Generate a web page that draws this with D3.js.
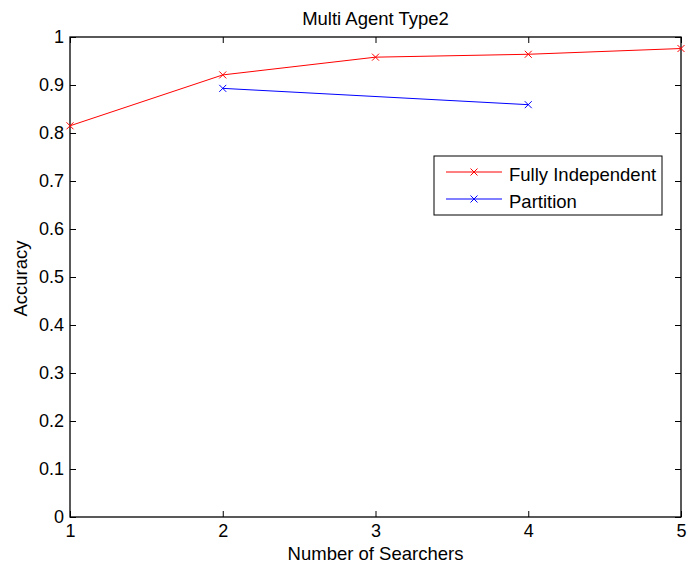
<!DOCTYPE html>
<html>
<head>
<meta charset="utf-8">
<script src="https://cdn.jsdelivr.net/npm/d3@7"></script>
<style>
  body { margin: 0; background: #fff; }
  text { font-family: "Liberation Sans", Arial, sans-serif; fill: #000; }
</style>
</head>
<body>
<svg id="chart" width="689" height="568"></svg>
<script>
const searchers = [1, 2, 3, 4, 5];
const fullyIndependent = [0.815, 0.921, 0.958, 0.964, 0.976];
const partitionX = [2, 4];
const partitionY = [0.893, 0.859];
const xTicks = [1, 2, 3, 4, 5];
const yTicks = [0, 0.1, 0.2, 0.3, 0.4, 0.5, 0.6, 0.7, 0.8, 0.9, 1];
const seriesNames = ["Fully Independent", "Partition"];
const seriesColors = ["#ff0000", "#0000ff"];

const svg = d3.select("#chart");
const plotLeft = 70, plotRight = 681, plotTop = 37, plotBottom = 517;

const x = d3.scaleLinear().domain([1, 5]).range([plotLeft, plotRight]);
const y = d3.scaleLinear().domain([0, 1]).range([plotBottom, plotTop]);

// Axes with inward ticks on all four sides (boxed frame)
const tickLen = 6;
const fmtY = d => d === 0 ? "0" : d === 1 ? "1" : d3.format(".1f")(d);

svg.append("g").attr("transform", `translate(0,${plotBottom})`)
  .call(d3.axisBottom(x).tickValues(xTicks).tickSize(-tickLen).tickPadding(7.5).tickFormat(d3.format("d")))
  .call(g => g.select(".domain").remove());
svg.append("g").attr("transform", `translate(0,${plotTop})`)
  .call(d3.axisTop(x).tickValues(xTicks).tickSize(-tickLen).tickFormat(""))
  .call(g => g.select(".domain").remove());
svg.append("g").attr("transform", `translate(${plotLeft},0)`)
  .call(d3.axisLeft(y).tickValues(yTicks).tickSize(-tickLen).tickPadding(6).tickFormat(fmtY))
  .call(g => g.select(".domain").remove());
svg.append("g").attr("transform", `translate(${plotRight},0)`)
  .call(d3.axisRight(y).tickValues(yTicks).tickSize(-tickLen).tickFormat(""))
  .call(g => g.select(".domain").remove());

svg.selectAll(".tick line").attr("stroke", "#000").attr("stroke-width", 1);
svg.selectAll(".tick text")
  .style("font-size", "18px")
  .style("font-family", "'Liberation Sans', Arial, sans-serif");

svg.append("rect")
  .attr("x", plotLeft).attr("y", plotTop)
  .attr("width", plotRight - plotLeft).attr("height", plotBottom - plotTop)
  .attr("fill", "none").attr("stroke", "#000").attr("stroke-width", 1.3);

// Series lines with x markers
const line = d3.line().x(d => x(d[0])).y(d => y(d[1]));
const series = [
  searchers.map((s, i) => [s, fullyIndependent[i]]),
  partitionX.map((s, i) => [s, partitionY[i]])
];

function cross(g, cx, cy, color) {
  const r = 3.5;
  g.append("path")
    .attr("d", `M${cx - r},${cy - r}L${cx + r},${cy + r}M${cx - r},${cy + r}L${cx + r},${cy - r}`)
    .attr("stroke", color).attr("stroke-width", 1).attr("fill", "none");
}

series.forEach((pts, i) => {
  const g = svg.append("g");
  g.append("path").datum(pts).attr("d", line)
    .attr("fill", "none").attr("stroke", seriesColors[i]).attr("stroke-width", 1);
  pts.forEach(p => cross(g, x(p[0]), y(p[1]), seriesColors[i]));
});

// Title and axis labels
svg.append("text").attr("x", (plotLeft + plotRight) / 2).attr("y", 25)
  .attr("text-anchor", "middle").style("font-size", "18.5px").text("Multi Agent Type2");
svg.append("text").attr("x", (plotLeft + plotRight) / 2).attr("y", 559.5)
  .attr("text-anchor", "middle").style("font-size", "18.5px").text("Number of Searchers");
svg.append("text").attr("transform", `translate(26.5,278.5) rotate(-90)`)
  .attr("text-anchor", "middle").style("font-size", "18.5px").text("Accuracy");

// Legend
const lg = svg.append("g");
lg.append("rect").attr("x", 434).attr("y", 156).attr("width", 228).attr("height", 59)
  .attr("fill", "#fff").attr("stroke", "#000").attr("stroke-width", 1);
seriesNames.forEach((name, i) => {
  const ly = 172 + i * 27;
  lg.append("line").attr("x1", 446).attr("x2", 502).attr("y1", ly).attr("y2", ly)
    .attr("stroke", seriesColors[i]).attr("stroke-width", 1);
  cross(lg, 474, ly, seriesColors[i]);
  lg.append("text").attr("x", 509).attr("y", ly + 8.5).style("font-size", "18.5px").text(name);
});
</script>
</body>
</html>
